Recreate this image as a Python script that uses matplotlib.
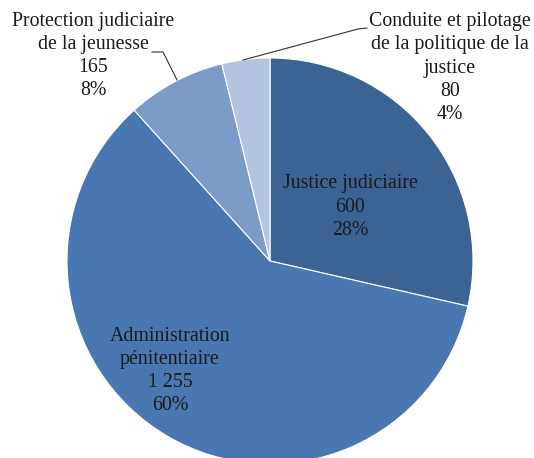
import matplotlib.pyplot as plt

labels = ['Justice judiciaire', 'Administration\npénitentiaire',
          'Protection judiciaire\nde la jeunesse',
          'Conduite et pilotage\nde la politique de la\njustice']
values = [600, 1255, 165, 80]
value_text = ['600', '1 255', '165', '80']
pct_text = ['28%', '60%', '8%', '4%']
colors = ['#3b6495', '#4877b1', '#7c9bc9', '#b4c3df']

W, H = 534, 458
fig = plt.figure(figsize=(W / 100, H / 100), dpi=100)
ax = fig.add_axes([0, 0, 1, 1])

cx, cy, r = 270, H - 261, 203
wedges, _ = ax.pie(values, colors=colors, startangle=90, counterclock=False,
                   center=(cx, cy), radius=r,
                   wedgeprops=dict(edgecolor='white', linewidth=0.8))
ax.set_xlim(0, W)
ax.set_ylim(0, H)
ax.set_aspect('equal')
ax.axis('off')

font = dict(family='Liberation Serif', fontsize=14.3, color='#1a1a1a',
            ha='center', va='center', linespacing=1.3)

# label positions (pixels, top-left origin)
pos = [(350, 207), (170, 371), (93, 56), (450, 68)]
for i, (x, y) in enumerate(pos):
    txt = f'{labels[i]}\n{value_text[i]}\n{pct_text[i]}'
    ax.text(x, H - y, txt, **font)

# leader lines
ax.plot([152, 163, 177], [H - 52, H - 52, H - 80], color='#333333', lw=0.8)
ax.plot([367, 358, 243], [H - 28, H - 29, H - 60], color='#333333', lw=0.8)

fig.savefig('out.png', dpi=100)
